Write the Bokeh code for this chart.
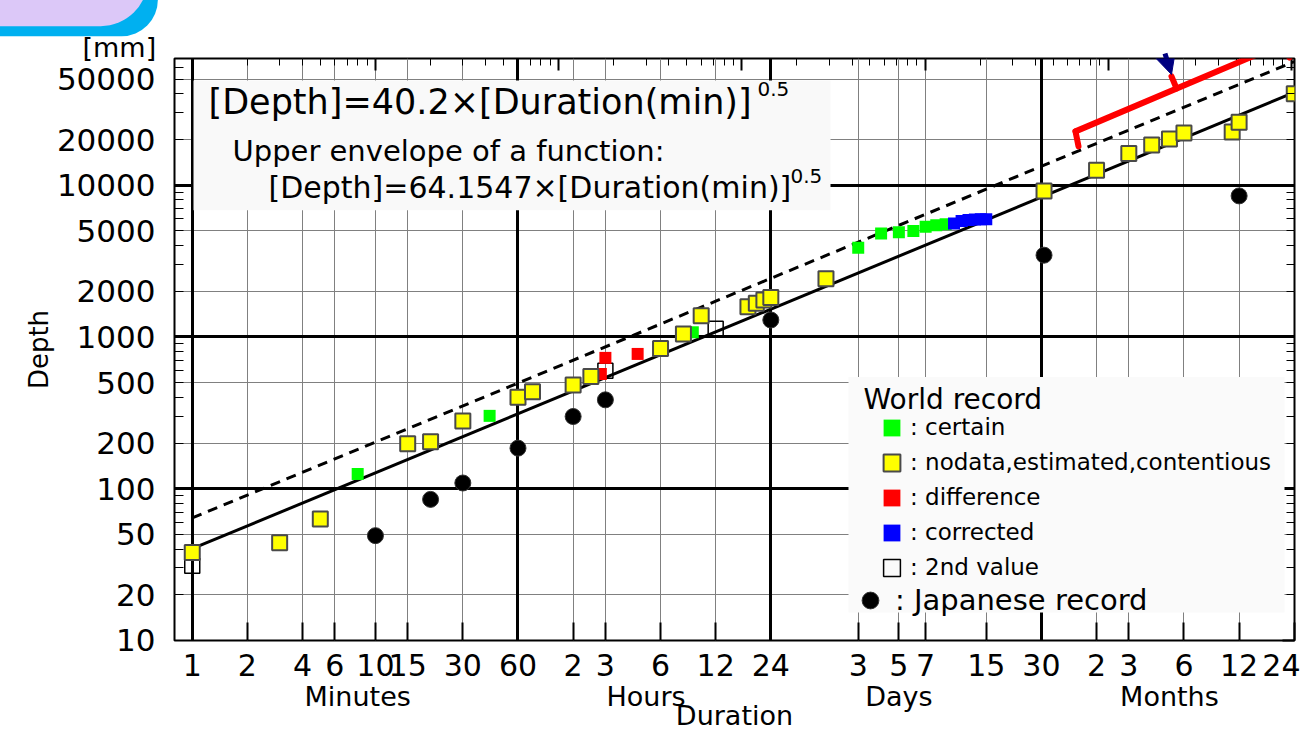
import math
from bokeh.plotting import figure
from bokeh.models import (FixedTicker, LogAxis, Grid, Label, BoxAnnotation, Arrow, NormalHead,
                          Legend, LegendItem, AllLabels, Title)
from bokeh.embed import file_html
from bokeh.resources import INLINE

FONT = "DejaVu Sans"

# ---------------- data (duration in minutes, depth in mm) ----------------
yellow_x = [1, 3, 5, 15, 20, 30, 60, 72, 120, 150, 360, 480, 600, 1080, 1200, 1320, 1440, 2880,
            44640, 86400, 129600, 172800, 216000, 259200, 475200, 518400, 1036800]
yellow_y = [38, 44, 63, 198, 204, 279, 400, 436, 483, 548, 838, 1047, 1380, 1580, 1670, 1750, 1820, 2420,
            9180, 12550, 16180, 18400, 20180, 22080, 22440, 26060, 40090]
green_x = [8, 42, 540, 4320, 5760, 7200, 8640, 10080, 11520, 12960]
green_y = [125, 302, 1074, 3870, 4810, 4910, 5000, 5320, 5460, 5540]
red_x = [170, 180, 270]
red_y = [570, 728, 773]
blue_x = [14400, 15840, 17280, 18720, 20160, 21600]
blue_y = [5600, 5820, 5900, 5950, 5980, 5980]
second_x = [1, 180, 720]
second_y = [31, 600, 1135]
japan_x = [10, 20, 30, 60, 120, 180, 1440, 44640, 518400]
japan_y = [49, 85, 109, 185, 299, 385, 1294, 3460, 8510]

# fitted line and upper envelope (end points of the power laws)
fit_x = [1, 1036800]
fit_y = [40.2, 40933]
env_y = [64.15, 65324]

# ---------------- ticks ----------------
x_tick_vals = [1, 2, 4, 6, 10, 15, 30, 60, 120, 180, 360, 720, 1440, 4320, 7200, 10080, 21600,
               43200, 86400, 129600, 259200, 518400, 1036800]
x_tick_text = ["1", "2", "4", "6", "10", "15", "30", "60", "2", "3", "6", "12", "24",
               "3", "5", "7", "15", "30", "2", "3", "6", "12", "24"]
x_major_grid = [1, 60, 1440, 43200]
group_pos = [8, 300, 7200, 216000]
group_text = ["Minutes", "Hours", "Days", "Months"]
y_tick_vals = [10, 20, 50, 100, 200, 500, 1000, 2000, 5000, 10000, 20000, 50000]
y_tick_text = ["10", "20", "50", "100", "200", "500", "1000", "2000", "5000", "10000", "20000", "50000"]
y_major_grid = [100, 1000, 10000]

x_thin_grid = [v for v in x_tick_vals if v not in x_major_grid and v != x_tick_vals[-1]]
y_thin_grid = [v for v in y_tick_vals if v not in y_major_grid and v != y_tick_vals[0]]
x_decades = [10 ** k for k in range(0, 7)]
x_minor = [m * 10 ** k for k in range(0, 6) for m in range(2, 10)]
y_decades = [10 ** k for k in range(1, 5)]
y_minor = [m * 10 ** k for k in range(1, 5) for m in range(2, 10)]

# ---------------- geometry helpers (canvas pixels -> data, for in-frame decorations) ----------------
X0, X1 = 0.8, 1040000
Y0, Y1 = 9.98, 68500
FL, FR, FT, FB = 174, 1294, 58, 641


def dx(px):
    return 10 ** (math.log10(X0) + (px - FL) / (FR - FL) * (math.log10(X1) - math.log10(X0)))


def dy(py):
    return 10 ** (math.log10(Y0) + (FB - py) / (FB - FT) * (math.log10(Y1) - math.log10(Y0)))


p = figure(width=1300, height=733, x_axis_type="log", y_axis_type="log",
           x_range=(X0, X1), y_range=(Y0, Y1), output_backend="svg", toolbar_location=None,
           min_border_left=174, min_border_right=6, min_border_top=58, min_border_bottom=92,
           title=None)
p.background_fill_color = "white"
p.border_fill_color = "white"
p.outline_line_color = "black"
p.outline_line_width = 2
p.xgrid.visible = False
p.ygrid.visible = False

# grids
p.add_layout(Grid(dimension=0, ticker=FixedTicker(ticks=x_thin_grid), grid_line_color="#808080", grid_line_width=1))
p.add_layout(Grid(dimension=1, ticker=FixedTicker(ticks=y_thin_grid), grid_line_color="#808080", grid_line_width=1))
p.add_layout(Grid(dimension=0, ticker=FixedTicker(ticks=x_major_grid), grid_line_color="black", grid_line_width=3))
p.add_layout(Grid(dimension=1, ticker=FixedTicker(ticks=y_major_grid), grid_line_color="black", grid_line_width=3))

# bottom axis
xa = p.xaxis[0]
xa.ticker = FixedTicker(ticks=x_tick_vals, minor_ticks=[])
xa.major_label_overrides = dict(zip(x_tick_vals, x_tick_text))
xa.major_label_policy = AllLabels()
xa.major_label_text_font = FONT
xa.major_label_text_font_size = "30px"
xa.major_label_text_color = "black"
xa.major_label_standoff = 13
xa.major_tick_in = 18
xa.major_tick_out = 0
xa.major_tick_line_width = 2
xa.major_tick_line_color = "black"
xa.axis_line_color = None

ga = LogAxis(ticker=FixedTicker(ticks=group_pos, minor_ticks=[]),
             major_label_overrides=dict(zip(group_pos, group_text)), major_label_policy=AllLabels(),
             major_tick_line_color=None, minor_tick_line_color=None, axis_line_color=None,
             major_label_standoff=-4, major_label_text_font=FONT, major_label_text_font_size="27px",
             major_label_text_color="black",
             axis_label="Duration", axis_label_standoff=-15, axis_label_text_font=FONT,
             axis_label_text_font_size="27px", axis_label_text_font_style="normal",
             axis_label_text_color="black")
p.add_layout(ga, "below")

# left axis
ya = p.yaxis[0]
ya.ticker = FixedTicker(ticks=y_tick_vals, minor_ticks=y_minor)
ya.major_label_overrides = dict(zip(y_tick_vals, y_tick_text))
ya.major_label_policy = AllLabels()
ya.major_label_text_font = FONT
ya.major_label_text_font_size = "31px"
ya.major_label_text_color = "black"
ya.major_label_standoff = 19
ya.major_tick_in = 0
ya.major_tick_out = 0
ya.minor_tick_in = 9
ya.minor_tick_out = 0
ya.minor_tick_line_color = "black"
ya.axis_line_color = None
ya.axis_label = "Depth"
ya.axis_label_text_font = FONT
ya.axis_label_text_font_size = "26px"
ya.axis_label_text_font_style = "normal"
ya.axis_label_text_color = "black"
ya.axis_label_standoff = 0

# right and top axes: inward ticks only, labels hidden
ra = LogAxis(ticker=FixedTicker(ticks=y_decades, minor_ticks=y_minor), major_label_text_font_size="1px",
             major_label_text_alpha=0, major_label_standoff=0, axis_line_color=None,
             major_tick_in=12, major_tick_out=0, minor_tick_in=8, minor_tick_out=0, major_tick_line_width=2)
p.add_layout(ra, "right")
ta = LogAxis(ticker=FixedTicker(ticks=x_decades, minor_ticks=x_minor), major_label_text_font_size="1px",
             major_label_text_alpha=0, major_label_standoff=0, axis_line_color=None,
             major_tick_in=12, major_tick_out=0, minor_tick_in=7, minor_tick_out=0, major_tick_line_width=2)
p.add_layout(ta, "above")

# unit label above the y axis
p.add_layout(Title(text="[mm]", text_font=FONT, text_font_size="27px", text_font_style="normal",
                   text_color="black", align="left", offset=-92, standoff=-8), "above")
# the slide's lavender tab with its blue rim in the top-left corner (two stacked boxes)
p.add_layout(Title(text=" ", text_font=FONT, text_font_size="1px", align="left", vertical_align="top",
                   offset=-214, standoff=-9,
                   background_fill_color="#00b0f0", background_fill_alpha=1, border_line_color=None,
                   padding=dict(left=0, right=197, top=35, bottom=0),
                   border_radius=dict(top_left=0, top_right=0, bottom_right=62, bottom_left=0)), "above")
p.add_layout(Title(text=" ", text_font=FONT, text_font_size="1px", align="left", vertical_align="top",
                   offset=-214, standoff=-47,
                   background_fill_color="#dcc8f8", background_fill_alpha=1, border_line_color=None,
                   padding=dict(left=0, right=187, top=46, bottom=0),
                   border_radius=dict(top_left=0, top_right=0, bottom_right=52, bottom_left=0)), "above")

# lines
p.line(fit_x, fit_y, line_color="black", line_width=3)
p.line(fit_x, env_y, line_color="black", line_width=3, line_dash="10 7")

# markers
r_second = p.rect(second_x, second_y, width=15, height=15, width_units="screen", height_units="screen",
                  fill_alpha=0, line_color="black", line_width=1.5)
r_green = p.rect(green_x, green_y, width=12, height=12, width_units="screen", height_units="screen",
                 fill_color="#00ff00", line_color=None)
r_red = p.rect(red_x, red_y, width=12, height=12, width_units="screen", height_units="screen",
               fill_color="#ff0000", line_color=None)
r_blue = p.rect(blue_x, blue_y, width=12, height=12, width_units="screen", height_units="screen",
                fill_color="#0000ff", line_color=None)
r_yellow = p.rect(yellow_x, yellow_y, width=15, height=15, width_units="screen", height_units="screen",
                  fill_color="#ffff00", line_color="#4a4a4a", line_width=2)
r_japan = p.scatter(japan_x, japan_y, marker="circle", size=16, fill_color="black", line_color="#333333")

# backgrounds of text box and legend
p.add_layout(BoxAnnotation(left=dx(193), right=dx(830), top=dy(80), bottom=dy(210),
                           fill_color="#f9f9f9", fill_alpha=1, line_alpha=0))
p.add_layout(BoxAnnotation(left=dx(848), right=dx(1284), top=dy(377), bottom=dy(613),
                           fill_color="#fafafa", fill_alpha=1, line_alpha=0))


# red bracket and navy arrow (slide annotations)
def seg(a, b, color="red", w=6):
    p.add_layout(Arrow(start=None, end=None, x_start=dx(a[0]), y_start=dy(a[1]), x_end=dx(b[0]), y_end=dy(b[1]),
                       line_color=color, line_width=w, line_cap="round", line_join="round"))


seg((1078, 146), (1075, 131))
seg((1075, 131), (1280, 44))
seg((1280, 44), (1289, 57))
seg((1176, 88), (1171, 76))
p.add_layout(Arrow(end=NormalHead(size=22, fill_color="#000080", line_color="#000080"),
                   x_start=dx(1145), y_start=dy(-10), x_end=dx(1171), y_end=dy(74),
                   line_color="#000080", line_width=5))


def lab(px, py, text, size, align="left", baseline="middle"):
    p.add_layout(Label(x=dx(px), y=dy(py), text=text, text_font=FONT, text_font_size=f"{size}px",
                       text_align=align, text_baseline=baseline, text_color="black"))


lab(208, 102, "[Depth]=40.2×[Duration(min)]", 35)
lab(757, 89, "0.5", 20)
lab(232, 151, "Upper envelope of a function:", 29)
lab(268, 187, "[Depth]=64.1547×[Duration(min)]", 30)
lab(790, 176, "0.5", 20)
lab(863, 400, "World record", 28)

leg1 = Legend(items=[LegendItem(label=": certain", renderers=[r_green]),
                     LegendItem(label=": nodata,estimated,contentious", renderers=[r_yellow]),
                     LegendItem(label=": difference", renderers=[r_red]),
                     LegendItem(label=": corrected", renderers=[r_blue]),
                     LegendItem(label=": 2nd value", renderers=[r_second])],
              location=(707, 60), glyph_width=21, glyph_height=21, label_height=21, label_standoff=8,
              spacing=9, padding=0, margin=0, label_text_font=FONT, label_text_font_size="23px",
              label_text_color="black", background_fill_alpha=0, border_line_alpha=0)
p.add_layout(leg1)
leg2 = Legend(items=[LegendItem(label=": Japanese record", renderers=[r_japan])],
              location=(675, 19), glyph_width=42, glyph_height=42, label_height=42, label_standoff=4,
              spacing=0, padding=0, margin=0, label_text_font=FONT, label_text_font_size="29px",
              label_text_color="black", background_fill_alpha=0, border_line_alpha=0)
p.add_layout(leg2)

open("out.html", "w").write(file_html(p, INLINE))
